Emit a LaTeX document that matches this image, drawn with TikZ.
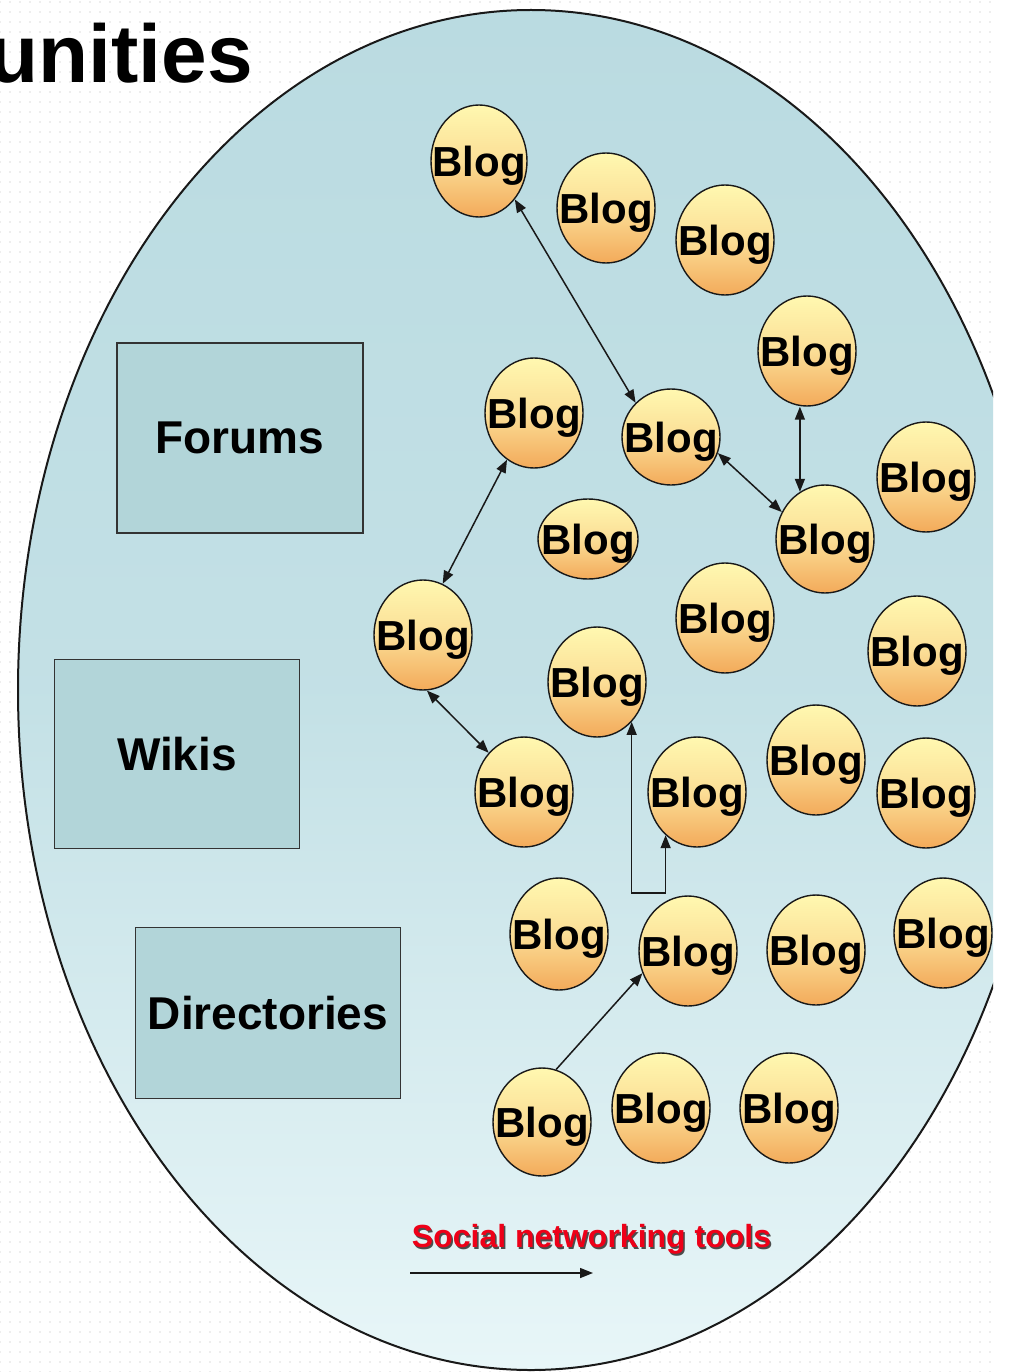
\documentclass[tikz,border=0pt]{standalone}
\usepackage{fontspec}
\setmainfont{Liberation Sans}
\usetikzlibrary{shapes.geometric,arrows.meta,patterns.meta}
\definecolor{ellTop}{HTML}{BADBE1}
\definecolor{ellBot}{HTML}{E8F6F8}
\definecolor{boxFill}{HTML}{B2D5D9}
\definecolor{blogTop}{HTML}{FFF8B0}
\definecolor{blogMid}{HTML}{FBDE96}
\definecolor{blogBot}{HTML}{F3AA5A}
\definecolor{legRed}{HTML}{EE0018}
\tikzset{
  blog/.style={ellipse, draw=black!90, line width=1.4pt, minimum width=98pt,
    minimum height=110pt, inner sep=0pt, top color=blogTop, bottom color=blogBot,
    middle color=blogMid, label={[blogtext]center:Blog}},
  blogtext/.style={font=\bfseries\fontsize{42}{42}\selectfont, text depth=0pt, inner sep=0pt},
  toolbox/.style={draw=black!80, line width=1.6pt, fill=boxFill,
    font=\bfseries\fontsize{46}{46}\selectfont, text depth=0pt, inner sep=0pt},
  link/.style={line width=1.5pt, draw=black!90,
    {Triangle[length=13pt,width=10pt]}-{Triangle[length=13pt,width=10pt]}},
  onelink/.style={line width=1.5pt, draw=black!90, -{Triangle[length=13pt,width=10pt]}},
}
\begin{document}
\begin{tikzpicture}[x=1pt,y=-1pt]
\useasboundingbox (0,0) rectangle (1014,1372);
\fill[white] (0,0) rectangle (1014,1372);
\fill[pattern={Dots[distance=10pt,radius=0.6pt]}, pattern color=black!28] (0,0) rectangle (993,1372);

\node[anchor=base east, font=\bfseries\fontsize{82}{82}\selectfont, inner sep=0pt] (title) at (253,83) {unities};

\begin{scope}
\clip (0,0) rectangle (993,1372);
\path[draw=black!90, line width=2pt, top color=ellTop, bottom color=ellBot,
  middle color=ellTop!80!ellBot] (531,690) ellipse [x radius=513, y radius=680];

\node[toolbox, minimum width=246pt, minimum height=190pt] (forums) at (240,438) {Forums};
\node[toolbox, minimum width=245pt, minimum height=189pt] (wikis) at (177,754) {Wikis};
\node[toolbox, minimum width=265pt, minimum height=171pt] (dirs) at (268,1013) {Directories};

\node[blog, minimum width=96pt, minimum height=112pt] (b1) at (479,161) {};
\node[blog] (b2) at (606,208) {};
\node[blog] (b3) at (725,240) {};
\node[blog] (b4) at (807,351) {};
\node[blog] (b5) at (534,413) {};
\node[blog, minimum height=96pt] (b6) at (671,437) {};
\node[blog] (b7) at (926,477) {};
\node[blog, minimum width=100pt, minimum height=80pt] (b8) at (588,539) {};
\node[blog, minimum height=108pt] (b9) at (825,539) {};
\node[blog] (b10) at (725,618) {};
\node[blog] (b11) at (423,635) {};
\node[blog] (b12) at (597,682) {};
\node[blog] (b13) at (917,651) {};
\node[blog] (b14) at (524,792) {};
\node[blog] (b15) at (697,792) {};
\node[blog] (b16) at (816,760) {};
\node[blog] (b17) at (926,793) {};
\node[blog, minimum height=112pt] (b18) at (559,934) {};
\node[blog] (b19) at (688,951) {};
\node[blog] (b20) at (816,950) {};
\node[blog] (b21) at (943,933) {};
\node[blog, minimum height=108pt] (b22) at (542,1122) {};
\node[blog] (b23) at (661,1108) {};
\node[blog] (b24) at (789,1108) {};

\draw[link] (b1.-47) -- (b6.136);
\draw[link] (b6.-19) -- (b9.148);
\draw[link] (b4.south -| b9.118) -- (b9.118);
\draw[link] (b5.-120) -- (b11.69);
\draw[link] (b11.-86) -- (b14.132);
\coordinate (elb) at (632,893);
\draw[link] (b12.-49) -- (b12.-49 |- elb) -| (b15.-126);
\draw[onelink] (b22.75) -- (b19.-154);

\node[font=\bfseries\fontsize{32}{32}\selectfont, text=black!70, inner sep=0pt] at (593,1241) {Social networking tools};
\node[font=\bfseries\fontsize{32}{32}\selectfont, text=legRed, inner sep=0pt] (legtxt) at (591.5,1239.5) {Social networking tools};
\coordinate (la) at (410,1273);
\coordinate (lb) at (593,1273);
\draw[onelink] (la) -- (lb);
\end{scope}
\end{tikzpicture}
\end{document}
